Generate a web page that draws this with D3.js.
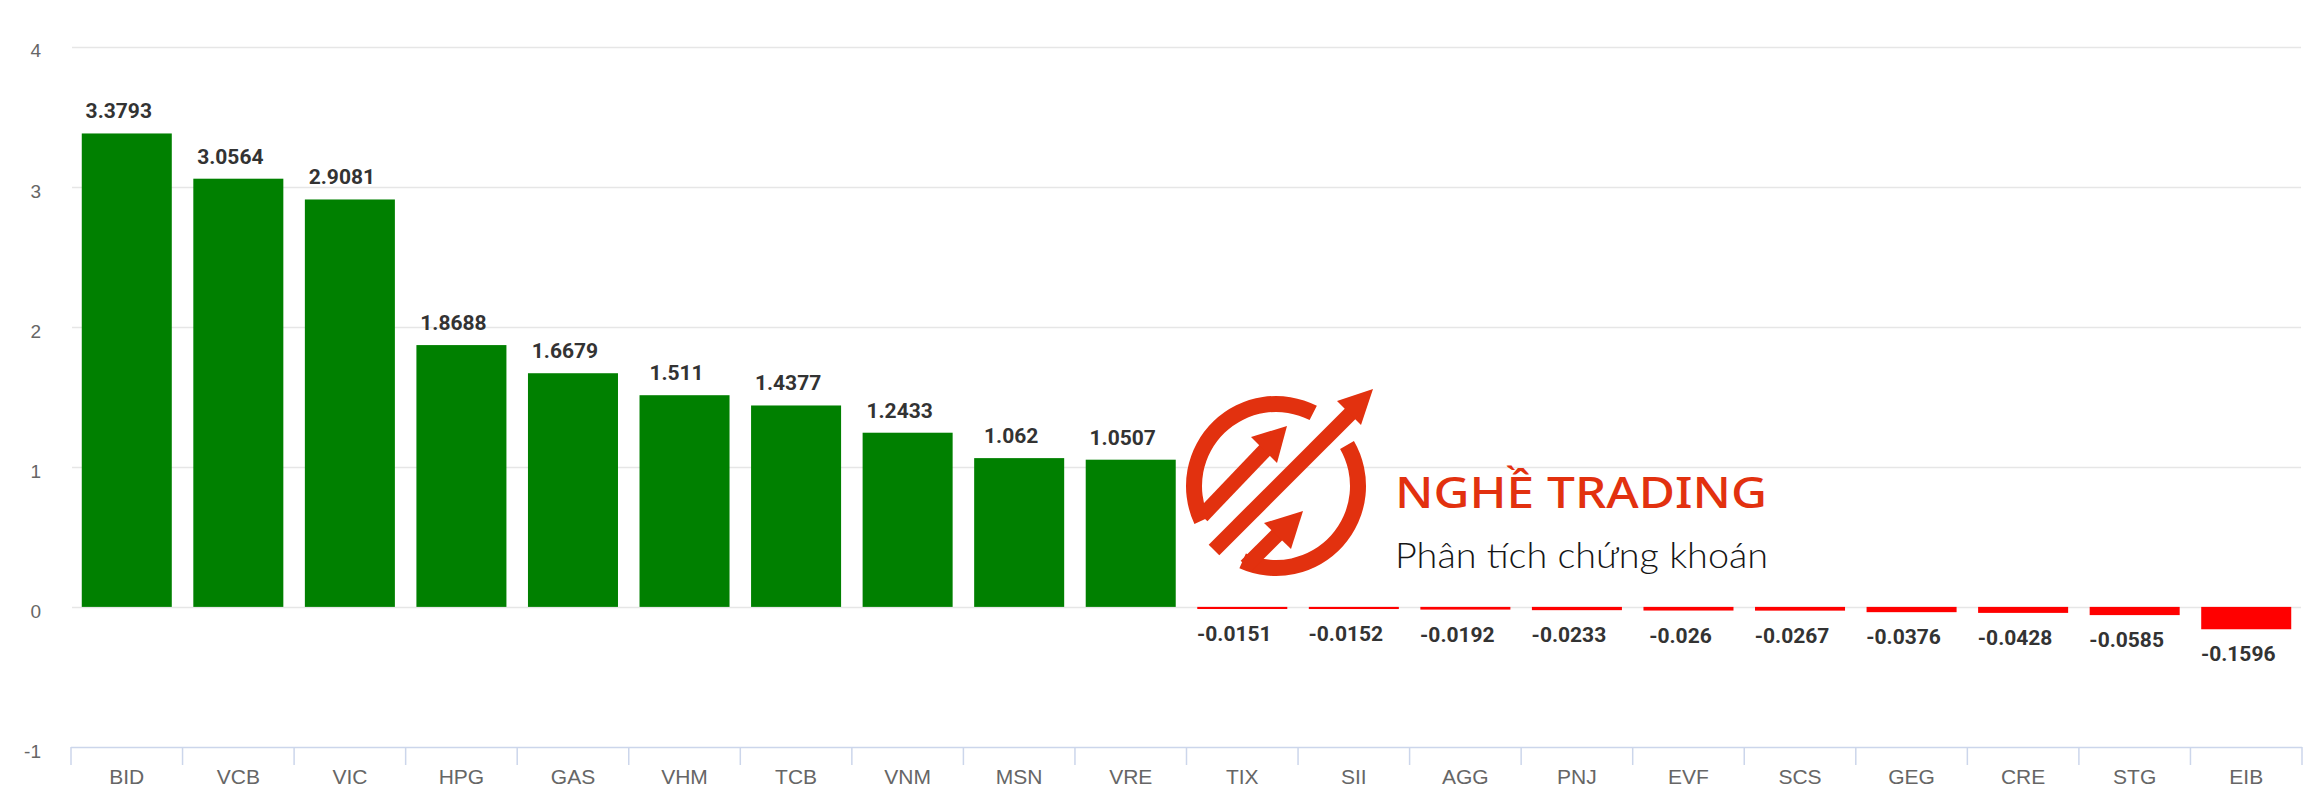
<!DOCTYPE html>
<html>
<head>
<meta charset="utf-8">
<script src="https://cdn.jsdelivr.net/npm/d3@7"></script>
<style>
  html, body { margin: 0; padding: 0; background: #ffffff; }
  svg { display: block; }
</style>
</head>
<body>
<svg id="chart" width="2319" height="795"></svg>
<script>
// ---- Data ----
const categories = ["BID","VCB","VIC","HPG","GAS","VHM","TCB","VNM","MSN","VRE",
                    "TIX","SII","AGG","PNJ","EVF","SCS","GEG","CRE","STG","EIB"];
const values = [3.3793, 3.0564, 2.9081, 1.8688, 1.6679, 1.511, 1.4377, 1.2433, 1.062, 1.0507,
                -0.0151, -0.0152, -0.0192, -0.0233, -0.026, -0.0267, -0.0376, -0.0428, -0.0585, -0.1596];
const valueLabels = ["3.3793","3.0564","2.9081","1.8688","1.6679","1.511","1.4377","1.2433","1.062","1.0507",
                     "-0.0151","-0.0152","-0.0192","-0.0233","-0.026","-0.0267","-0.0376","-0.0428","-0.0585","-0.1596"];
const yTicks = [-1, 0, 1, 2, 3, 4];
const yTickLabels = ["-1", "0", "1", "2", "3", "4"];
const brandTitle = "NGHỀ TRADING";
const brandSubtitle = "Phân tích chứng khoán";

// ---- Layout ----
const W = 2319, H = 795;
const plotLeft = 71, plotRight = 2302, plotTop = 46.5, plotBottom = 747;
const svg = d3.select("#chart");

const x = d3.scaleBand().domain(categories).range([plotLeft, plotRight]).paddingInner(0).paddingOuter(0);
const y = d3.scaleLinear().domain([-1, 4]).range([plotBottom, plotTop]);
const barW = x.bandwidth() * 0.807;

// gridlines
svg.append("g").selectAll("line").data(yTicks.filter(d => d !== -1)).join("line")
  .attr("x1", plotLeft + 1).attr("x2", plotRight - 1)
  .attr("y1", d => Math.round(y(d)) + 0.5).attr("y2", d => Math.round(y(d)) + 0.5)
  .attr("stroke", "#e6e6e6").attr("stroke-width", 1.5);

// y axis labels
const yAxis = d3.axisLeft(y).tickValues(yTicks).tickSize(0).tickPadding(0)
  .tickFormat((d, i) => yTickLabels[i]);
const gy = svg.append("g").attr("transform", `translate(41,0)`).call(yAxis);
gy.select(".domain").remove();
gy.selectAll("text")
  .attr("font-family", "'Liberation Sans', Arial, sans-serif")
  .attr("font-size", 19).attr("fill", "#666666").attr("dy", "0.55em");

// x axis
const xAxis = d3.axisBottom(x).tickSize(0).tickPadding(0);
const gx = svg.append("g").attr("transform", `translate(0,${plotBottom})`).call(xAxis);
gx.select(".domain").remove();
gx.selectAll(".tick line").remove();
gx.selectAll("text")
  .attr("font-family", "'Liberation Sans', Arial, sans-serif")
  .attr("font-size", 21).attr("fill", "#666666").attr("y", 37).attr("dy", 0);
// axis line and tick marks at band boundaries
svg.append("line").attr("x1", plotLeft).attr("x2", plotRight)
  .attr("y1", plotBottom + 0.5).attr("y2", plotBottom + 0.5)
  .attr("stroke", "#ccd6eb").attr("stroke-width", 1.5);
const boundaries = categories.map(c => x(c)).concat([x(categories[categories.length - 1]) + x.bandwidth()]);
svg.append("g").selectAll("line").data(boundaries).join("line")
  .attr("x1", d => d).attr("x2", d => d)
  .attr("y1", plotBottom).attr("y2", plotBottom + 18)
  .attr("stroke", "#ccd6eb").attr("stroke-width", 1.5);

// bars
const data = categories.map((c, i) => ({ c, v: values[i], lab: valueLabels[i] }));
svg.append("g").selectAll("rect").data(data).join("rect")
  .attr("x", d => x(d.c) + (x.bandwidth() - barW) / 2)
  .attr("width", barW)
  .attr("y", d => d.v >= 0 ? y(d.v) : y(0))
  .attr("height", d => Math.abs(y(d.v) - y(0)))
  .attr("fill", d => d.v >= 0 ? "#008000" : "#ff0000");

// value labels
svg.append("g").selectAll("text").data(data).join("text")
  .attr("x", d => x(d.c) + x.bandwidth() / 2 - 8)
  .attr("y", d => d.v >= 0 ? y(d.v) - 15 : y(d.v) + 32)
  .attr("text-anchor", "middle")
  .attr("font-family", "Roboto, 'Liberation Sans', sans-serif")
  .attr("font-weight", 700).attr("font-size", 21).attr("fill", "#333333")
  .text(d => d.lab);

// ---- Watermark logo ----
const red = "#e2310f";
const logo = svg.append("g").attr("transform", "translate(1276,486)");
const arc = d3.arc().innerRadius(74).outerRadius(90);
const rad = a => a * Math.PI / 180;
logo.append("path").attr("d", arc({ startAngle: rad(155 + 90), endAngle: rad(297 + 90) })).attr("fill", red);
logo.append("path").attr("d", arc({ startAngle: rad(330 + 90), endAngle: rad(474 + 90) })).attr("fill", red);
// big arrow
logo.append("line").attr("x1", -62).attr("y1", 64).attr("x2", 76).attr("y2", -74)
  .attr("stroke", red).attr("stroke-width", 15);
logo.append("polygon").attr("points", "97,-97 61,-85 85,-61").attr("fill", red);
// small arrow 1 (upper-left)
logo.append("line").attr("x1", -74).attr("y1", 30).attr("x2", -10).attr("y2", -37)
  .attr("stroke", red).attr("stroke-width", 15);
logo.append("polygon").attr("points", "11,-60 -25,-49 1,-23").attr("fill", red);
// small arrow 2 (lower)
logo.append("line").attr("x1", -30).attr("y1", 80).attr("x2", 3).attr("y2", 47)
  .attr("stroke", red).attr("stroke-width", 15);
logo.append("polygon").attr("points", "27,25 -12,37 15,63").attr("fill", red);

svg.append("text").attr("x", 1395).attr("y", 508)
  .attr("font-family", "'Noto Sans', 'Open Sans', sans-serif").attr("font-weight", 500)
  .attr("font-size", 44).attr("fill", red)
  .attr("textLength", 372).attr("lengthAdjust", "spacingAndGlyphs")
  .text(brandTitle);
svg.append("text").attr("x", 1395).attr("y", 568)
  .attr("font-family", "Lato, 'Open Sans', sans-serif").attr("font-weight", 300)
  .attr("font-size", 36).attr("fill", "#151515")
  .attr("textLength", 373).attr("lengthAdjust", "spacingAndGlyphs")
  .text(brandSubtitle);
</script>
</body>
</html>
